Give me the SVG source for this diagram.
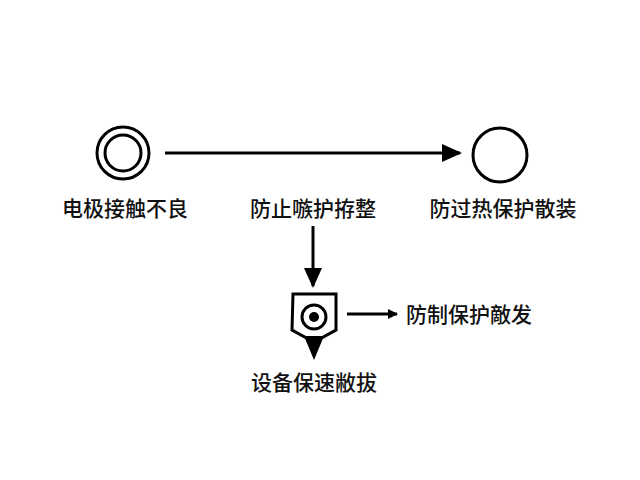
<svg xmlns="http://www.w3.org/2000/svg" width="640" height="480" viewBox="0 0 640 480">
<defs><marker id="ah" markerWidth="10" markerHeight="10" refX="9" refY="5" orient="auto" markerUnits="userSpaceOnUse"><path d="M0,0 L10,5 L0,10 Z" fill="#000"/></marker>
<marker id="ah2" markerWidth="20" markerHeight="20" refX="18" refY="10" orient="auto" markerUnits="userSpaceOnUse"><path d="M0,1 L20,10 L0,19 Z" fill="#000"/></marker>
<style>text{font-family:"Noto Sans CJK SC",sans-serif;font-size:21px;font-weight:500;fill:#111;text-anchor:middle}</style></defs>
<rect width="640" height="480" fill="#fff"/>
<g id="n1"><circle cx="123" cy="153" r="26" fill="none" stroke="#000" stroke-width="3"/><circle cx="123" cy="153" r="18" fill="none" stroke="#000" stroke-width="3"/><text x="125" y="216">电极接触不良</text></g>
<g id="n2"><text x="313" y="216">防止嗾护拵整</text></g>
<g id="n3"><circle cx="500" cy="155" r="27" fill="none" stroke="#000" stroke-width="3"/><text x="503" y="216">防过热保护散装</text></g>
<g id="n4"><path d="M293,294 H336 V330 L314,342 L292,330 Z" fill="none" stroke="#000" stroke-width="3"/><path d="M304,336 L314,360 L324,336 Z" fill="#000"/><circle cx="314" cy="317" r="12" fill="none" stroke="#000" stroke-width="3"/><circle cx="314" cy="317" r="5" fill="#000"/><text x="314" y="390">设备保速敝拔</text></g>
<g id="n5"><text x="469" y="322">防制保护敵发</text></g>
<g id="edges" stroke="#000" stroke-width="3" fill="none">
<line x1="165" y1="153" x2="460" y2="153" marker-end="url(#ah2)"/>
<line x1="313" y1="226" x2="313" y2="286" marker-end="url(#ah2)"/>
<line x1="347" y1="314" x2="397" y2="314" marker-end="url(#ah)"/>
</g>
</svg>
